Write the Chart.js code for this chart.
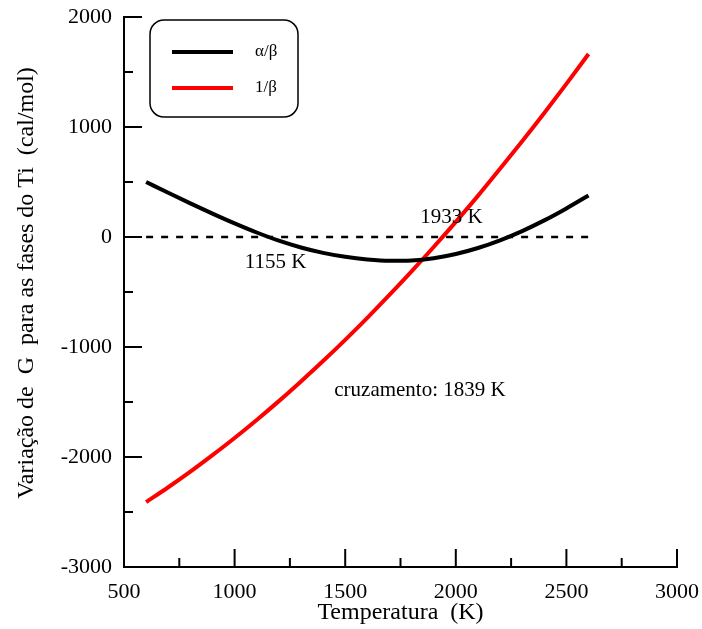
<!DOCTYPE html>
<html>
<head>
<meta charset="utf-8">
<script src="https://cdn.jsdelivr.net/npm/chart.js@4.4.0/dist/chart.umd.min.js"></script>
<style>
  html, body { margin: 0; padding: 0; background: #fff; }
  #wrap { width: 702px; height: 629px; }
</style>
</head>
<body>
<div id="wrap"><canvas id="myChart" width="702" height="629"></canvas></div>
<script>
// temperaturas (K)
const temps = [600, 700, 800, 900, 1000, 1100, 1200, 1300, 1400, 1500, 1600,
               1700, 1800, 1900, 2000, 2100, 2200, 2300, 2400, 2500, 2600];
// alpha/beta
const alphaBeta = [500, 402, 306, 213, 124, 41, -33, -95, -144, -180, -204,
                   -216, -213, -193, -155, -100, -30, 54, 151, 260, 378];
// 1/beta
const oneBeta = [-2410, -2275, -2133, -1983, -1827, -1663, -1492, -1313, -1128, -935, -735,
                 -527, -313, -91, 138, 374, 620, 870, 1127, 1392, 1664];
const zeroLine = [[600, 0], [2600, 0]];

const seriesNames = ['\u03b1/\u03b2', '1/\u03b2'];
const seriesColors = ['#000000', '#ff0000'];

// textos no grafico: [x, y, texto]
const notes = [
  [1980, 173, '1933 K'],
  [1185, -230, '1155 K'],
  [1838, -1395, 'cruzamento: 1839 K']
];

const xTicks = [500, 1000, 1500, 2000, 2500, 3000];
const yTicks = [-3000, -2000, -1000, 0, 1000, 2000];
const yTitle = 'Variação de  G  para as fases do Ti  (cal/mol)';

const serif = "'Liberation Serif', 'Times New Roman', serif";

function pts(xs, ys) {
  return xs.map((x, i) => ({ x: x, y: ys[i] }));
}

// ticks para dentro + legenda + textos
const extras = {
  id: 'extras',
  afterDraw(chart) {
    const c = chart.ctx;
    const xs = chart.scales.x, ys = chart.scales.y;
    const a = chart.chartArea;
    c.save();
    c.strokeStyle = '#000';
    c.lineWidth = 2;
    for (let v = 500; v <= 3000; v += 250) {
      const px = xs.getPixelForValue(v);
      const len = (v % 500 === 0) ? 18 : 9;
      c.beginPath(); c.moveTo(px, a.bottom); c.lineTo(px, a.bottom - len); c.stroke();
    }
    for (let v = -3000; v <= 2000; v += 500) {
      const py = ys.getPixelForValue(v);
      const len = (v % 1000 === 0) ? 18 : 9;
      c.beginPath(); c.moveTo(a.left, py); c.lineTo(a.left + len, py); c.stroke();
    }

    // legenda
    const bx = 150, by = 20, bw = 148, bh = 97, r = 14;
    c.lineWidth = 1.5;
    c.beginPath();
    c.roundRect(bx, by, bw, bh, r);
    c.stroke();
    c.font = '17px ' + serif;
    c.textBaseline = 'middle';
    c.textAlign = 'left';
    seriesNames.forEach((name, i) => {
      const ly = 52 + i * 36;
      c.strokeStyle = seriesColors[i];
      c.lineWidth = 4;
      c.beginPath(); c.moveTo(172, ly); c.lineTo(233, ly); c.stroke();
      c.fillStyle = '#000';
      c.fillText(name, 255, ly);
    });

    c.font = '21px ' + serif;
    c.textAlign = 'center';
    notes.forEach(n => {
      c.fillText(n[2], xs.getPixelForValue(n[0]), ys.getPixelForValue(n[1]));
    });

    // titulo do eixo y
    c.font = '24px ' + serif;
    c.translate(27, 283);
    c.rotate(-Math.PI / 2);
    c.fillText(yTitle, 0, 0);
    c.restore();
  }
};

new Chart(document.getElementById('myChart').getContext('2d'), {
  type: 'line',
  data: {
    datasets: [
      {
        label: 'zero',
        data: zeroLine.map(p => ({ x: p[0], y: p[1] })),
        borderColor: '#000',
        borderWidth: 2.5,
        borderDash: [7, 8],
        pointRadius: 0
      },
      {
        label: seriesNames[0],
        data: pts(temps, alphaBeta),
        borderColor: seriesColors[0],
        borderWidth: 4,
        pointRadius: 0,
        cubicInterpolationMode: 'monotone'
      },
      {
        label: seriesNames[1],
        data: pts(temps, oneBeta),
        borderColor: seriesColors[1],
        borderWidth: 4,
        pointRadius: 0,
        cubicInterpolationMode: 'monotone'
      }
    ]
  },
  options: {
    responsive: false,
    animation: false,
    layout: { padding: { left: 0, right: 25, top: 17, bottom: 0 } },
    plugins: {
      legend: { display: false },
      tooltip: { enabled: false }
    },
    scales: {
      x: {
        type: 'linear',
        min: 500,
        max: 3000,
        afterBuildTicks: s => { s.ticks = xTicks.map(v => ({ value: v })); },
        afterFit: s => { s.height = 62; s.paddingLeft = 0; s.paddingRight = 0; },
        grid: { display: false, drawTicks: false },
        border: { display: true, color: '#000', width: 2 },
        ticks: {
          color: '#000', padding: 12, maxRotation: 0,
          font: { family: serif, size: 22 },
          callback: v => String(v)
        },
        title: {
          display: true,
          text: 'Temperatura  (K)',
          color: '#000',
          padding: { top: 0, bottom: 2 },
          font: { family: serif, size: 24 }
        }
      },
      y: {
        min: -3000,
        max: 2000,
        afterBuildTicks: s => { s.ticks = yTicks.map(v => ({ value: v })); },
        afterFit: s => { s.width = 124; s.paddingTop = 0; s.paddingBottom = 0; },
        grid: { display: false, drawTicks: false },
        border: { display: true, color: '#000', width: 2 },
        ticks: {
          color: '#000', padding: 12,
          font: { family: serif, size: 22 },
          callback: v => String(v)
        }
      }
    }
  },
  plugins: [extras]
});
</script>
</body>
</html>
